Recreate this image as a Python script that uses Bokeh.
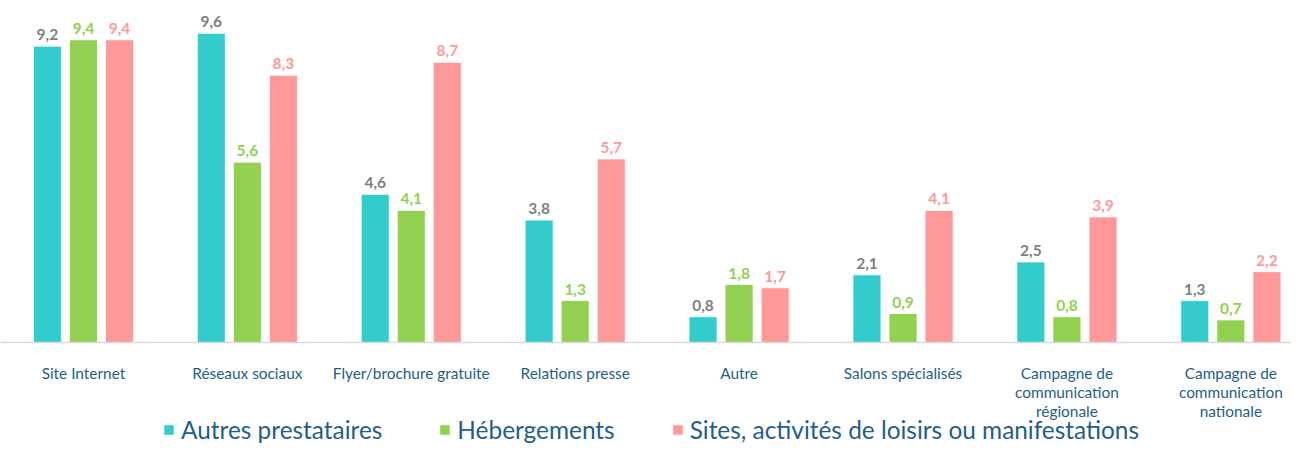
from bokeh.plotting import figure
from bokeh.models import ColumnDataSource, Range1d, FixedTicker, Legend, LegendItem
from bokeh.core.properties import value
from bokeh.embed import file_html
from bokeh.resources import INLINE

categories = ["Site Internet", "Réseaux sociaux", "Flyer/brochure gratuite", "Relations presse",
              "Autre", "Salons spécialisés", "Campagne de\ncommunication\nrégionale",
              "Campagne de\ncommunication\nnationale"]
series_names = ["Autres prestataires", "Hébergements", "Sites, activités de loisirs ou manifestations"]
autres = [9.2, 9.6, 4.6, 3.8, 0.8, 2.1, 2.5, 1.3]
hebergements = [9.4, 5.6, 4.1, 1.3, 1.8, 0.9, 0.8, 0.7]
sites = [9.4, 8.3, 8.7, 5.7, 1.7, 4.1, 3.9, 2.2]

bar_colors = ["#33CCCC", "#92D050", "#FF9999"]
label_colors = ["#7F7F7F", "#92D050", "#FF9999"]
offsets = [-0.22, 0.0, 0.22]
FONT = "Lato"
BLUE = "#1F5E8C"

p = figure(frame_width=1291, frame_height=445, output_backend="svg", toolbar_location=None,
           x_range=Range1d(-0.506, 7.37), y_range=Range1d(-3.199, 10.62),
           min_border_left=0, min_border_right=0, min_border_top=0, min_border_bottom=0)
p.outline_line_color = None
p.grid.visible = False
p.yaxis.visible = False
p.background_fill_color = "white"

xa = p.xaxis[0]
xa.fixed_location = 0
xa.ticker = FixedTicker(ticks=list(range(len(categories))))
xa.major_label_overrides = {i: c for i, c in enumerate(categories)}
xa.major_tick_line_color = None
xa.minor_tick_line_color = None
xa.axis_line_color = "#D9D9D9"
xa.axis_line_width = 1.5
xa.major_label_text_font = FONT
xa.major_label_text_font_size = "15.4px"
xa.major_label_text_color = BLUE
xa.major_label_standoff = 16
xa.major_label_text_line_height = 1.03

items = []
for k, vals in enumerate([autres, hebergements, sites]):
    xs = [i + offsets[k] for i in range(len(vals))]
    src = ColumnDataSource(dict(x=xs, top=vals,
                                lab=[f"{v:.1f}".replace(".", ",") for v in vals]))
    r = p.vbar(x="x", top="top", bottom=0, width=0.171, source=src,
               fill_color=bar_colors[k], line_color="white", line_width=0.8)
    p.text(x="x", y="top", text="lab", source=src, text_align="center",
           text_baseline="bottom", y_offset=-6, text_color=label_colors[k],
           text_font=value(FONT), text_font_style="bold", text_font_size="15.5px")
    items.append(LegendItem(label=series_names[k], renderers=[r]))

legend = Legend(items=items, orientation="horizontal", location=(162, 1),
                label_text_font=FONT, label_text_font_size="24.4px",
                label_text_color=BLUE, glyph_width=13, glyph_height=13,
                label_standoff=6, spacing=56, padding=0, margin=0,
                border_line_color=None, background_fill_alpha=0)
p.add_layout(legend)

open("out.html", "w").write(file_html(p, INLINE))
